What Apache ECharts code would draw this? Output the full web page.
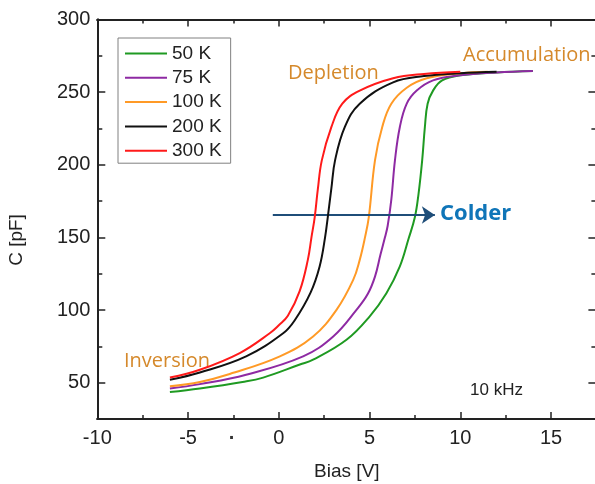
<!DOCTYPE html>
<html><head><meta charset="utf-8">
<script src="https://cdn.jsdelivr.net/npm/echarts@6/dist/echarts.min.js"></script>
<style>html,body{margin:0;padding:0;background:#fff}#c{width:595px;height:484px}</style>
</head><body><div id="c"></div>
<script>
// ---- data ----
const seriesNames = ['50 K', '75 K', '100 K', '200 K', '300 K'];
const seriesColors = ['#1f9a22', '#8e2aa3', '#ff9a26', '#111111', '#ff1a1a'];

const bias50 = [-6, -4.35, -2, -0.86, 1.16, 1.89, 3.73, 5.0, 5.93, 6.67, 7.15, 7.5, 7.7, 7.9, 8.05, 8.2, 8.5, 9.0, 10, 12, 14];
const cap50  = [43.5, 46, 50.5, 53.5, 62.5, 65.8, 79.5, 95.5, 111.6, 130, 149, 164, 180, 203, 226, 242, 251, 258, 261.5, 263.5, 264.5];

const bias75 = [-6, -4.35, -1.8, 1.34, 3.0, 4.28, 4.9, 5.3, 5.6, 5.85, 6.0, 6.2, 6.4, 6.67, 7.05, 7.6, 8.5, 10, 12, 14];
const cap75  = [46, 49, 55.5, 68.1, 81.8, 100.1, 111, 123, 138, 150, 158, 176, 203, 226, 242, 251, 258, 261.5, 263.5, 264.5];

const bias100 = [-6, -4.35, -2.7, 0.06, 1.89, 3.18, 4.1, 4.46, 4.75, 4.96, 5.3, 5.7, 6.2, 7.05, 8.15, 10, 11.5];
const cap100  = [47.5, 50.5, 56, 68.1, 81.8, 100.1, 120.7, 134.5, 150, 164, 203, 226, 242, 253, 259.5, 263, 264];

const bias200 = [-6, -4.35, -1.8, 0.24, 0.88, 1.75, 2.25, 2.55, 2.7, 2.9, 3.1, 3.64, 4.46, 6.3, 8, 10, 12];
const cap200  = [52, 57, 68.1, 84, 93, 112, 130, 150, 164, 184, 203, 226, 242, 256.7, 261, 263, 264];

const bias300 = [-6, -4.35, -2.15, -0.5, 0, 0.5, 1.15, 1.6, 1.8, 1.98, 2.15, 2.37, 2.9, 3.5, 4.46, 6.3, 8, 10];
const cap300  = [53.5, 58.9, 70.4, 84, 89.5, 96, 113, 134.5, 150, 164, 183, 203, 226, 242, 251, 259.5, 262.5, 264];

const xMajorTicks = [-10, -5, 0, 5, 10, 15];
const xMinorTicks = [-7.5, -2.5, 2.5, 7.5, 12.5, 17.5];
const yMajorTicks = [50, 100, 150, 200, 250, 300];
const yMinorTicks = [75, 125, 175, 225, 275];

// arrow ("Colder") endpoints in data units
const arrowFrom = [-0.33, 165.4];
const arrowTo = [8.6, 165.4];

// ---- chart ----
const biasList = [bias50, bias75, bias100, bias200, bias300];
const capList = [cap50, cap75, cap100, cap200, cap300];

const AX = '#222';
const FONT = '"Liberation Sans", Arial, sans-serif';
const XMIN = -10, XMAX = 17.5, YMIN = 25, YMAX = 300;

function xAx(pos, ticks, len, labels) {
  return {
    type: 'value', position: pos, min: XMIN, max: XMAX, gridIndex: 0,
    axisLine: { show: true, onZero: false, lineStyle: { color: AX, width: 2 } },
    axisTick: { show: true, inside: true, length: len, customValues: ticks, lineStyle: { color: AX, width: 1.5 } },
    axisLabel: labels ? { show: true, customValues: ticks, fontSize: 20, color: '#222', fontFamily: FONT, margin: 9 } : { show: false },
    splitLine: { show: false }
  };
}
function yAx(pos, ticks, len, labels) {
  return {
    type: 'value', position: pos, min: YMIN, max: YMAX, gridIndex: 0,
    axisLine: { show: true, onZero: false, lineStyle: { color: AX, width: 2 } },
    axisTick: { show: true, inside: true, length: len, customValues: ticks, lineStyle: { color: AX, width: 1.5 } },
    axisLabel: labels ? { show: true, customValues: ticks, fontSize: 20, color: '#222', fontFamily: FONT, margin: 7 } : { show: false },
    splitLine: { show: false }
  };
}

const xAxes = [
  Object.assign(xAx('bottom', xMajorTicks, 7, true), {
    name: 'Bias [V]', nameLocation: 'middle', nameGap: 43,
    nameTextStyle: { fontSize: 19, color: '#222', fontFamily: FONT }
  }),
  xAx('bottom', xMinorTicks, 4, false),
  xAx('top', xMajorTicks, 7, false),
  xAx('top', xMinorTicks, 4, false)
];
const yAxes = [
  yAx('left', yMajorTicks, 8, true),
  yAx('left', yMinorTicks, 5, false),
  yAx('right', yMajorTicks, 8, false),
  yAx('right', yMinorTicks, 5, false)
];

const series = seriesNames.map((n, i) => ({
  name: n, type: 'line', xAxisIndex: 0, yAxisIndex: 0,
  data: biasList[i].map((b, j) => [b, capList[i][j]]),
  smooth: 0.4, showSymbol: false, symbol: 'none',
  lineStyle: { color: seriesColors[i], width: 2 }, itemStyle: { color: seriesColors[i] },
  z: 2 + i
}));
series.push({
  type: 'line', xAxisIndex: 0, yAxisIndex: 0, data: [], silent: true,
  markLine: {
    silent: true, symbol: ['none', 'arrow'], symbolSize: 13,
    label: { show: false },
    lineStyle: { color: '#1f4e79', width: 2, type: 'solid' },
    data: [[{ coord: arrowFrom }, { coord: arrowTo }]]
  }
});

const orange = '#d5892b';
const option = {
  animation: false,
  backgroundColor: '#fff',
  grid: { left: 97.3, top: 19.4, right: -1.4, bottom: 65, containLabel: false, outerBoundsMode: 'none' },
  xAxis: xAxes,
  yAxis: yAxes,
  legend: {
    data: seriesNames, orient: 'vertical', left: 118, top: 38,
    icon: 'rect', itemWidth: 42, itemHeight: 2, itemGap: 5.3,
    padding: [6, 9, 3, 7], borderColor: '#808080', borderWidth: 1,
    textStyle: { fontSize: 19, lineHeight: 18, color: '#222', fontFamily: FONT },
    selectedMode: false
  },
  series: series,
  graphic: [
    { type: 'text', rotation: Math.PI / 2, x: 17, y: 240, style: { text: 'C [pF]', fontSize: 19, fontFamily: 'Liberation Sans', fill: '#222', align: 'center', verticalAlign: 'middle' } },
    { type: 'text', x: 288, y: 63, style: { text: 'Depletion', fontSize: 20, fontFamily: 'Open Sans', fill: orange, align: 'left', verticalAlign: 'alphabetic' } },
    { type: 'text', x: 463, y: 45, style: { text: 'Accumulation', fontSize: 20, fontFamily: 'Open Sans', fill: orange, align: 'left', verticalAlign: 'alphabetic' } },
    { type: 'text', x: 124, y: 351, style: { text: 'Inversion', fontSize: 20, fontFamily: 'Open Sans', fill: orange, align: 'left', verticalAlign: 'alphabetic' } },
    { type: 'text', x: 440, y: 203, style: { text: 'Colder', fontSize: 22, fontWeight: 'bold', fontFamily: 'Open Sans', fill: '#0f75b8', align: 'left', verticalAlign: 'alphabetic' } },
    { type: 'text', x: 470, y: 382, style: { text: '10 kHz', fontSize: 17, fontFamily: 'Liberation Sans', fill: '#222', align: 'left', verticalAlign: 'alphabetic' } },
    { type: 'text', x: 232, y: 438, style: { text: '·', fontSize: 20, fontWeight: 'bold', fontFamily: 'Liberation Sans', fill: '#333', align: 'center', verticalAlign: 'middle' } }
  ]
};

const chart = echarts.init(document.getElementById('c'), null, { renderer: 'canvas' });
chart.setOption(option);
</script>
</body></html>
